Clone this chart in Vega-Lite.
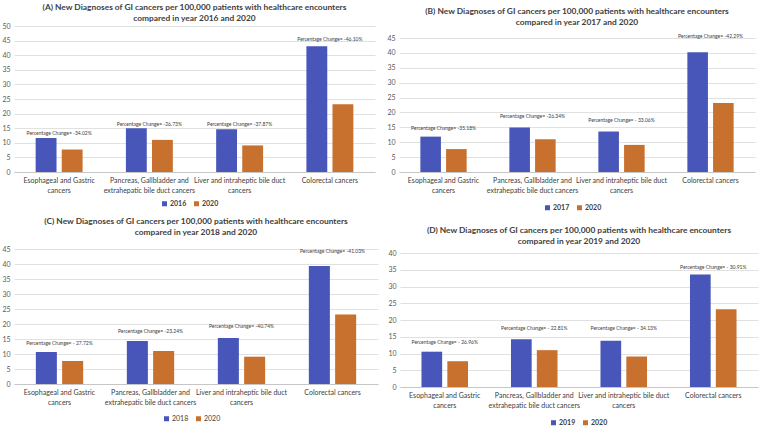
{
  "$schema": "https://vega.github.io/schema/vega-lite/v6.json",
  "padding": {"left": 1, "top": 2, "right": 2, "bottom": 0},
  "background": "white",
  "datasets": {
    "bars": [
      {"panel": "A", "cancer": "Esophageal and Gastric|cancers", "year": "2016", "value": 11.67},
      {"panel": "A", "cancer": "Pancreas, Gallbladder and|extrahepatic bile duct cancers", "year": "2016", "value": 15.01},
      {"panel": "A", "cancer": "Liver and intraheptic bile duct|cancers", "year": "2016", "value": 14.65},
      {"panel": "A", "cancer": "Colorectal cancers", "year": "2016", "value": 43.04},
      {"panel": "A", "cancer": "Esophageal and Gastric|cancers", "year": "2020", "value": 7.7},
      {"panel": "A", "cancer": "Pancreas, Gallbladder and|extrahepatic bile duct cancers", "year": "2020", "value": 11.0},
      {"panel": "A", "cancer": "Liver and intraheptic bile duct|cancers", "year": "2020", "value": 9.1},
      {"panel": "A", "cancer": "Colorectal cancers", "year": "2020", "value": 23.2},
      {"panel": "B", "cancer": "Esophageal and Gastric|cancers", "year": "2017", "value": 11.88},
      {"panel": "B", "cancer": "Pancreas, Gallbladder and|extrahepatic bile duct cancers", "year": "2017", "value": 14.93},
      {"panel": "B", "cancer": "Liver and intraheptic bile duct|cancers", "year": "2017", "value": 13.59},
      {"panel": "B", "cancer": "Colorectal cancers", "year": "2017", "value": 40.2},
      {"panel": "B", "cancer": "Esophageal and Gastric|cancers", "year": "2020", "value": 7.7},
      {"panel": "B", "cancer": "Pancreas, Gallbladder and|extrahepatic bile duct cancers", "year": "2020", "value": 11.0},
      {"panel": "B", "cancer": "Liver and intraheptic bile duct|cancers", "year": "2020", "value": 9.1},
      {"panel": "B", "cancer": "Colorectal cancers", "year": "2020", "value": 23.2},
      {"panel": "C", "cancer": "Esophageal and Gastric|cancers", "year": "2018", "value": 10.65},
      {"panel": "C", "cancer": "Pancreas, Gallbladder and|extrahepatic bile duct cancers", "year": "2018", "value": 14.33},
      {"panel": "C", "cancer": "Liver and intraheptic bile duct|cancers", "year": "2018", "value": 15.36},
      {"panel": "C", "cancer": "Colorectal cancers", "year": "2018", "value": 39.34},
      {"panel": "C", "cancer": "Esophageal and Gastric|cancers", "year": "2020", "value": 7.7},
      {"panel": "C", "cancer": "Pancreas, Gallbladder and|extrahepatic bile duct cancers", "year": "2020", "value": 11.0},
      {"panel": "C", "cancer": "Liver and intraheptic bile duct|cancers", "year": "2020", "value": 9.1},
      {"panel": "C", "cancer": "Colorectal cancers", "year": "2020", "value": 23.2},
      {"panel": "D", "cancer": "Esophageal and Gastric|cancers", "year": "2019", "value": 10.54},
      {"panel": "D", "cancer": "Pancreas, Gallbladder and|extrahepatic bile duct cancers", "year": "2019", "value": 14.25},
      {"panel": "D", "cancer": "Liver and intraheptic bile duct|cancers", "year": "2019", "value": 13.82},
      {"panel": "D", "cancer": "Colorectal cancers", "year": "2019", "value": 33.58},
      {"panel": "D", "cancer": "Esophageal and Gastric|cancers", "year": "2020", "value": 7.7},
      {"panel": "D", "cancer": "Pancreas, Gallbladder and|extrahepatic bile duct cancers", "year": "2020", "value": 11.0},
      {"panel": "D", "cancer": "Liver and intraheptic bile duct|cancers", "year": "2020", "value": 9.1},
      {"panel": "D", "cancer": "Colorectal cancers", "year": "2020", "value": 23.2}
    ],
    "notes": [
      {"panel": "A", "cancer": "Esophageal and Gastric|cancers", "label_y": 13.4, "label": "Percentage Change= -34.02%"},
      {"panel": "A", "cancer": "Pancreas, Gallbladder and|extrahepatic bile duct cancers", "label_y": 16.5, "label": "Percentage Change= -26.73%"},
      {"panel": "A", "cancer": "Liver and intraheptic bile duct|cancers", "label_y": 16.5, "label": "Percentage Change= -37.87%"},
      {"panel": "A", "cancer": "Colorectal cancers", "label_y": 45.5, "label": "Percentage Change= -46.10%"},
      {"panel": "B", "cancer": "Esophageal and Gastric|cancers", "label_y": 14.7, "label": "Percentage Change= -35.18%"},
      {"panel": "B", "cancer": "Pancreas, Gallbladder and|extrahepatic bile duct cancers", "label_y": 18.9, "label": "Percentage Change= -26.34%"},
      {"panel": "B", "cancer": "Liver and intraheptic bile duct|cancers", "label_y": 17.6, "label": "Percentage Change= - 33.06%"},
      {"panel": "B", "cancer": "Colorectal cancers", "label_y": 45.8, "label": "Percentage Change= -42.29%"},
      {"panel": "C", "cancer": "Esophageal and Gastric|cancers", "label_y": 13.8, "label": "Percentage Change= - 27.72%"},
      {"panel": "C", "cancer": "Pancreas, Gallbladder and|extrahepatic bile duct cancers", "label_y": 17.8, "label": "Percentage Change= -23.24%"},
      {"panel": "C", "cancer": "Liver and intraheptic bile duct|cancers", "label_y": 19.4, "label": "Percentage Change= -40.74%"},
      {"panel": "C", "cancer": "Colorectal cancers", "label_y": 44.4, "label": "Percentage Change= -41.03%"},
      {"panel": "D", "cancer": "Esophageal and Gastric|cancers", "label_y": 13.3, "label": "Percentage Change= - 26.96%"},
      {"panel": "D", "cancer": "Pancreas, Gallbladder and|extrahepatic bile duct cancers", "label_y": 17.7, "label": "Percentage Change= - 22.81%"},
      {"panel": "D", "cancer": "Liver and intraheptic bile duct|cancers", "label_y": 17.5, "label": "Percentage Change= - 34.13%"},
      {"panel": "D", "cancer": "Colorectal cancers", "label_y": 35.8, "label": "Percentage Change= - 30.91%"}
    ]
  },
  "config": {
    "font": "Lato",
    "view": {"stroke": null},
    "title": {"fontSize": 8.4, "fontWeight": "bold", "color": "#404040", "anchor": "middle", "lineHeight": 11},
    "axisY": {"domain": false, "ticks": false, "gridColor": "#d9d9d9", "gridWidth": 0.8, "labelFontSize": 7, "labelColor": "#595959", "labelPadding": 4, "labelOverlap": false, "labelFlush": false, "title": null},
    "axisX": {"domainColor": "#bfbfbf", "domainWidth": 0.8, "ticks": false, "grid": false, "labelFontSize": 7, "labelColor": "#404040", "labelAngle": 0, "labelLimit": 200, "labelPadding": 4, "labelLineHeight": 10, "title": null, "labelExpr": "split(datum.label, '|')"},
    "legend": {"orient": "none", "direction": "horizontal", "title": null, "symbolType": "square", "symbolSize": 25, "labelFontSize": 7, "labelFontWeight": "bold", "labelColor": "#404040", "columnPadding": 6, "labelOffset": 2, "padding": 0, "symbolStrokeWidth": 0}
  },
  "spacing": 5,
  "resolve": {"scale": {"color": "independent", "x": "independent", "y": "independent", "xOffset": "independent"}, "legend": {"color": "independent"}},
  "vconcat": [
    {
      "spacing": 11,
      "resolve": {"scale": {"color": "independent", "x": "independent", "y": "independent", "xOffset": "independent"}, "legend": {"color": "independent"}},
      "hconcat": [
        {
          "title": {"text": ["(A) New Diagnoses of GI cancers per 100,000 patients with healthcare encounters", "compared in year 2016 and 2020"], "offset": 0},
          "width": 361, "height": 146,
          "layer": [
            {
              "data": {"name": "bars"}, "transform": [{"filter": "datum.panel == 'A'"}],
              "mark": {"type": "bar"},
              "encoding": {
                "x": {"field": "cancer", "type": "nominal", "sort": null, "scale": {"paddingInner": 0.48, "paddingOuter": 0.24}},
                "xOffset": {"field": "year", "type": "nominal", "scale": {"paddingInner": 0.2}},
                "y": {"field": "value", "type": "quantitative", "scale": {"domain": [0, 50], "nice": false}, "axis": {"values": [0, 5, 10, 15, 20, 25, 30, 35, 40, 45, 50]}},
                "color": {"field": "year", "type": "nominal", "scale": {"range": ["#4756B8", "#C8702E"]}, "legend": {"legendX": 147, "legendY": 174}}
              }
            },
            {
              "data": {"name": "notes"}, "transform": [{"filter": "datum.panel == 'A'"}],
              "mark": {"type": "text", "fontSize": 5, "color": "#404040"},
              "encoding": {
                "x": {"field": "cancer", "type": "nominal", "sort": null},
                "y": {"field": "label_y", "type": "quantitative", "axis": {"values": [0, 5, 10, 15, 20, 25, 30, 35, 40, 45, 50]}},
                "text": {"field": "label"}
              }
            }
          ]
        },
        {
          "title": {"text": ["(B) New Diagnoses of GI cancers per 100,000 patients with healthcare encounters", "compared in year 2017 and 2020"], "offset": 0},
          "width": 356, "height": 146,
          "layer": [
            {
              "data": {"name": "bars"}, "transform": [{"filter": "datum.panel == 'B'"}],
              "mark": {"type": "bar"},
              "encoding": {
                "x": {"field": "cancer", "type": "nominal", "sort": null, "scale": {"paddingInner": 0.48, "paddingOuter": 0.24}},
                "xOffset": {"field": "year", "type": "nominal", "scale": {"paddingInner": 0.2}},
                "y": {"field": "value", "type": "quantitative", "scale": {"domain": [0, 45], "nice": false, "range": [146, 12]}, "axis": {"values": [0, 5, 10, 15, 20, 25, 30, 35, 40, 45]}},
                "color": {"field": "year", "type": "nominal", "scale": {"range": ["#4756B8", "#C8702E"]}, "legend": {"legendX": 145, "legendY": 178}}
              }
            },
            {
              "data": {"name": "notes"}, "transform": [{"filter": "datum.panel == 'B'"}],
              "mark": {"type": "text", "fontSize": 5, "color": "#404040"},
              "encoding": {
                "x": {"field": "cancer", "type": "nominal", "sort": null},
                "y": {"field": "label_y", "type": "quantitative", "axis": {"values": [0, 5, 10, 15, 20, 25, 30, 35, 40, 45]}},
                "text": {"field": "label"}
              }
            }
          ]
        }
      ]
    },
    {
      "spacing": 9,
      "resolve": {"scale": {"color": "independent", "x": "independent", "y": "independent", "xOffset": "independent"}, "legend": {"color": "independent"}},
      "hconcat": [
        {
          "title": {"text": ["(C) New Diagnoses of GI cancers per 100,000 patients with healthcare encounters", "compared in year 2018 and 2020"], "offset": 9},
          "width": 364, "height": 135,
          "layer": [
            {
              "data": {"name": "bars"}, "transform": [{"filter": "datum.panel == 'C'"}],
              "mark": {"type": "bar"},
              "encoding": {
                "x": {"field": "cancer", "type": "nominal", "sort": null, "scale": {"paddingInner": 0.48, "paddingOuter": 0.24}},
                "xOffset": {"field": "year", "type": "nominal", "scale": {"paddingInner": 0.2}},
                "y": {"field": "value", "type": "quantitative", "scale": {"domain": [0, 45], "nice": false}, "axis": {"values": [0, 5, 10, 15, 20, 25, 30, 35, 40, 45]}},
                "color": {"field": "year", "type": "nominal", "scale": {"range": ["#4756B8", "#C8702E"]}, "legend": {"labelFontWeight": "normal", "legendX": 149, "legendY": 166}}
              }
            },
            {
              "data": {"name": "notes"}, "transform": [{"filter": "datum.panel == 'C'"}],
              "mark": {"type": "text", "fontSize": 5, "color": "#404040"},
              "encoding": {
                "x": {"field": "cancer", "type": "nominal", "sort": null},
                "y": {"field": "label_y", "type": "quantitative", "axis": {"values": [0, 5, 10, 15, 20, 25, 30, 35, 40, 45]}},
                "text": {"field": "label"}
              }
            }
          ]
        },
        {
          "title": {"text": ["(D) New Diagnoses of GI cancers per 100,000 patients with healthcare encounters", "compared in year 2019 and 2020"], "offset": 4},
          "width": 358, "height": 138,
          "layer": [
            {
              "data": {"name": "bars"}, "transform": [{"filter": "datum.panel == 'D'"}],
              "mark": {"type": "bar"},
              "encoding": {
                "x": {"field": "cancer", "type": "nominal", "sort": null, "scale": {"paddingInner": 0.48, "paddingOuter": 0.24}},
                "xOffset": {"field": "year", "type": "nominal", "scale": {"paddingInner": 0.2}},
                "y": {"field": "value", "type": "quantitative", "scale": {"domain": [0, 40], "nice": false, "range": [138, 4]}, "axis": {"values": [0, 5, 10, 15, 20, 25, 30, 35, 40]}},
                "color": {"field": "year", "type": "nominal", "scale": {"range": ["#4756B8", "#C8702E"]}, "legend": {"legendX": 150, "legendY": 170}}
              }
            },
            {
              "data": {"name": "notes"}, "transform": [{"filter": "datum.panel == 'D'"}],
              "mark": {"type": "text", "fontSize": 5, "color": "#404040"},
              "encoding": {
                "x": {"field": "cancer", "type": "nominal", "sort": null},
                "y": {"field": "label_y", "type": "quantitative", "axis": {"values": [0, 5, 10, 15, 20, 25, 30, 35, 40]}},
                "text": {"field": "label"}
              }
            }
          ]
        }
      ]
    }
  ]
}
